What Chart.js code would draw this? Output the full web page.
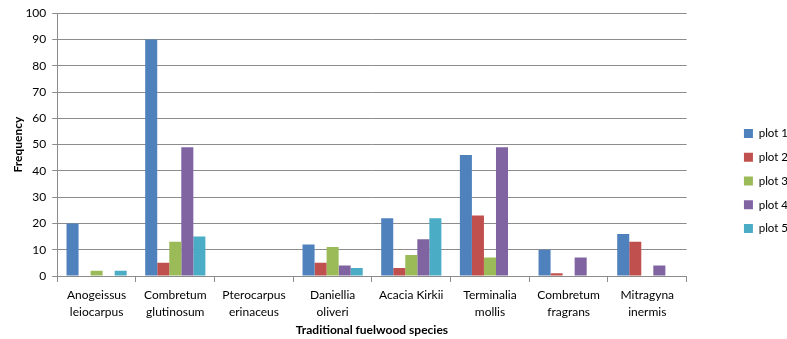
<!DOCTYPE html>
<html>
<head>
<meta charset="utf-8">
<script src="https://cdn.jsdelivr.net/npm/chart.js@4.4.1/dist/chart.umd.min.js"></script>
<style>
  html, body { margin: 0; padding: 0; background: #ffffff; }
  #wrap { width: 787px; height: 339px; }
</style>
</head>
<body>
<div id="wrap"><canvas id="c" width="787" height="339"></canvas></div>
<script>
// Fuelwood species surveyed (x-axis categories)
const species = [
  ['Anogeissus', 'leiocarpus'],
  ['Combretum', 'glutinosum'],
  ['Pterocarpus', 'erinaceus'],
  ['Daniellia', 'oliveri'],
  'Acacia Kirkii',
  ['Terminalia', 'mollis'],
  ['Combretum', 'fragrans'],
  ['Mitragyna', 'inermis']
];

// Frequency per plot
const plot1 = [20, 90, 0, 12, 22, 46, 10, 16];
const plot2 = [0, 5, 0, 5, 3, 23, 1, 13];
const plot3 = [2, 13, 0, 11, 8, 7, 0, 0];
const plot4 = [0, 49, 0, 4, 14, 49, 7, 4];
const plot5 = [2, 15, 0, 3, 22, 0, 0, 0];

const seriesNames = ['plot 1', 'plot 2', 'plot 3', 'plot 4', 'plot 5'];
const seriesValues = [plot1, plot2, plot3, plot4, plot5];
const seriesColors = ['#4F81BD', '#C0504D', '#9BBB59', '#8064A2', '#4BACC6'];

const yTicks = { min: 0, max: 100, step: 10 };

const FONT = 'Lato, "Liberation Sans", sans-serif';
const GRID = '#8c8c8c';

// Moves the legend block sideways/down after layout, leaving the plot area as is
const legendShift = {
  id: 'legendShift',
  afterLayout(chart, args, opts) {
    const lg = chart.legend;
    if (!lg) return;
    lg.left += opts.dx; lg.right += opts.dx;
    lg.top += opts.dy; lg.bottom += opts.dy;
  }
};

new Chart(document.getElementById('c'), {
  type: 'bar',
  data: {
    labels: species,
    datasets: seriesNames.map((name, i) => ({
      label: name,
      data: seriesValues[i],
      backgroundColor: seriesColors[i],
      borderWidth: 0,
      barPercentage: 1.0,
      categoryPercentage: 0.765
    }))
  },
  plugins: [legendShift],
  options: {
    responsive: false,
    animation: false,
    devicePixelRatio: 1,
    layout: { padding: { top: 7, right: 34, bottom: 2, left: 11 } },
    plugins: {
      tooltip: { enabled: false },
      legendShift: { dx: 45, dy: 9 },
      legend: {
        position: 'right',
        align: 'center',
        labels: {
          boxWidth: 9,
          boxHeight: 9,
          padding: 12.3,
          color: '#000',
          font: { family: FONT, size: 11.5 }
        }
      }
    },
    scales: {
      x: {
        offset: true,
        grid: {
          display: true,
          drawOnChartArea: false,
          drawTicks: true,
          tickLength: 6,
          offset: true,
          color: GRID
        },
        border: { display: true, color: GRID },
        ticks: {
          color: '#000',
          font: { family: FONT, size: 12, lineHeight: 1.4 },
          maxRotation: 0,
          autoSkip: false,
          padding: 5
        },
        title: {
          display: true,
          text: 'Traditional fuelwood species',
          color: '#000',
          font: { family: FONT, size: 12, weight: 'bold' },
          padding: { top: -3, bottom: 0 }
        }
      },
      y: {
        min: yTicks.min,
        max: yTicks.max,
        grid: {
          color: GRID,
          drawTicks: true,
          tickLength: 5
        },
        border: { display: true, color: GRID },
        ticks: {
          stepSize: yTicks.step,
          color: '#000',
          font: { family: FONT, size: 12 },
          padding: 6
        },
        title: {
          display: true,
          text: 'Frequency',
          color: '#000',
          font: { family: FONT, size: 12, weight: 'bold' },
          padding: { top: 0, bottom: -6 }
        }
      }
    }
  }
});
</script>
</body>
</html>
